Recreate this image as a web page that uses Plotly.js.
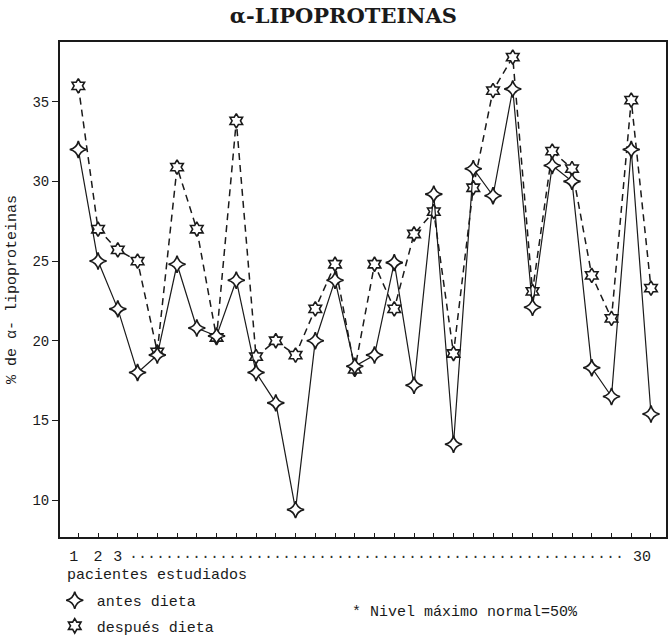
<!DOCTYPE html>
<html>
<head>
<meta charset="utf-8">
<script src="https://cdn.plot.ly/plotly-3.0.1.min.js"></script>
<style>html,body{margin:0;padding:0;background:#fff;}#chart{width:668px;height:639px;}</style>
</head>
<body>
<div id="chart"></div>
<script>
// Patients 1..30
const patients = [1,2,3,4,5,6,7,8,9,10,11,12,13,14,15,16,17,18,19,20,21,22,23,24,25,26,27,28,29,30];
// % alpha-lipoproteins before diet
const antesDieta = [32.0,25.0,22.0,18.0,19.1,24.8,20.8,20.3,23.8,18.0,16.1,9.4,20.0,23.8,18.4,19.1,24.9,17.2,29.2,13.5,30.8,29.1,35.8,22.1,31.0,30.0,18.3,16.5,32.0,15.4];
// % alpha-lipoproteins after diet
const despuesDieta = [36.0,27.0,25.7,25.0,19.3,30.9,27.0,20.2,33.8,19.0,20.0,19.1,22.0,24.8,18.2,24.8,22.0,26.7,28.1,19.2,29.6,35.7,37.8,23.1,31.9,30.8,24.1,21.4,35.1,23.3];
// Tick labels
const yTicks = [10,15,20,25,30,35];
const xLabeled = {1:'1\u00a0', 2:'2', 3:'3', 30:'30\u00a0\u00a0'};
const xTickText = patients.map(p => xLabeled[p] || '');

const MONO = 'Liberation Mono, Courier New, monospace';
const INK = '#1a1a1a';

const starMarker = {symbol: 'star-square', angle: 45, size: 11, color: '#fff', line: {color: INK, width: 1.6}};
const hexMarker = {symbol: 'hexagram', size: 11, color: '#fff', line: {color: INK, width: 1.6}};

const traces = [
  {
    x: patients, y: despuesDieta, type: 'scatter', mode: 'lines+markers',
    name: 'después dieta', showlegend: false,
    line: {color: INK, width: 1.5, dash: '7px,5px'},
    marker: hexMarker
  },
  {
    x: patients, y: antesDieta, type: 'scatter', mode: 'lines+markers',
    name: 'antes dieta', showlegend: false,
    line: {color: INK, width: 1.2},
    marker: starMarker
  },
  // legend-only entries (marker only, as in the original key)
  {
    x: [null], y: [null], type: 'scatter', mode: 'markers', name: 'antes dieta', showlegend: true,
    legendgroup: 'a', marker: starMarker
  },
  {
    x: [null], y: [null], type: 'scatter', mode: 'markers', name: 'después dieta', showlegend: true,
    legendgroup: 'b', marker: hexMarker
  }
];

const layout = {
  width: 668, height: 639,
  margin: {l: 60, r: 2, t: 42, b: 102, autoexpand: false},
  paper_bgcolor: '#fff', plot_bgcolor: '#fff',
  title: {
    text: '<b>α-LIPOPROTEINAS</b>',
    font: {family: 'DejaVu Serif, Liberation Serif, serif', size: 21, color: INK},
    xref: 'container', x: 0.514, xanchor: 'center',
    yref: 'container', y: 0.975, yanchor: 'middle'
  },
  xaxis: {
    range: [0.073, 30.76],
    tickmode: 'array', tickvals: patients, ticktext: xTickText,
    ticks: 'inside', ticklen: 4, tickwidth: 1, tickcolor: INK,
    ticklabelstandoff: 4, ticklabeloverflow: 'allow',
    tickfont: {family: MONO, size: 15, color: INK},
    showgrid: false, zeroline: false,
    showline: true, linecolor: INK, linewidth: 2, mirror: true
  },
  yaxis: {
    range: [7.68, 38.75],
    tickmode: 'array', tickvals: yTicks,
    ticks: 'outside', ticklen: 6, tickwidth: 1, tickcolor: INK,
    tickfont: {family: MONO, size: 14, color: INK},
    showgrid: false, zeroline: false,
    showline: true, linecolor: INK, linewidth: 2, mirror: true,
    title: {text: '% de α- lipoproteinas', font: {family: MONO, size: 15, color: INK}, standoff: 12}
  },
  legend: {
    x: -0.012, xanchor: 'left', y: -0.095, yanchor: 'top',
    orientation: 'v', bgcolor: 'rgba(0,0,0,0)',
    font: {family: MONO, size: 15, color: INK},
    tracegroupgap: 3, itemwidth: 34
  },
  showlegend: true,
  annotations: [
    {text: '.'.repeat(55), xref: 'paper', yref: 'paper', x: 0.5215, y: -0.036,
     xanchor: 'center', yanchor: 'middle', showarrow: false,
     font: {family: MONO, size: 15, color: '#333'}},
    {text: 'pacientes estudiados', xref: 'paper', yref: 'paper', x: 0.008, y: -0.078,
     xanchor: 'left', yanchor: 'middle', showarrow: false,
     font: {family: MONO, size: 15, color: INK}},
    {text: '* Nivel máximo normal=50%', xref: 'paper', yref: 'paper', x: 0.478, y: -0.152,
     xanchor: 'left', yanchor: 'middle', showarrow: false,
     font: {family: MONO, size: 15, color: INK}}
  ]
};

Plotly.newPlot('chart', traces, layout, {displayModeBar: false, staticPlot: true});
</script>
</body>
</html>
